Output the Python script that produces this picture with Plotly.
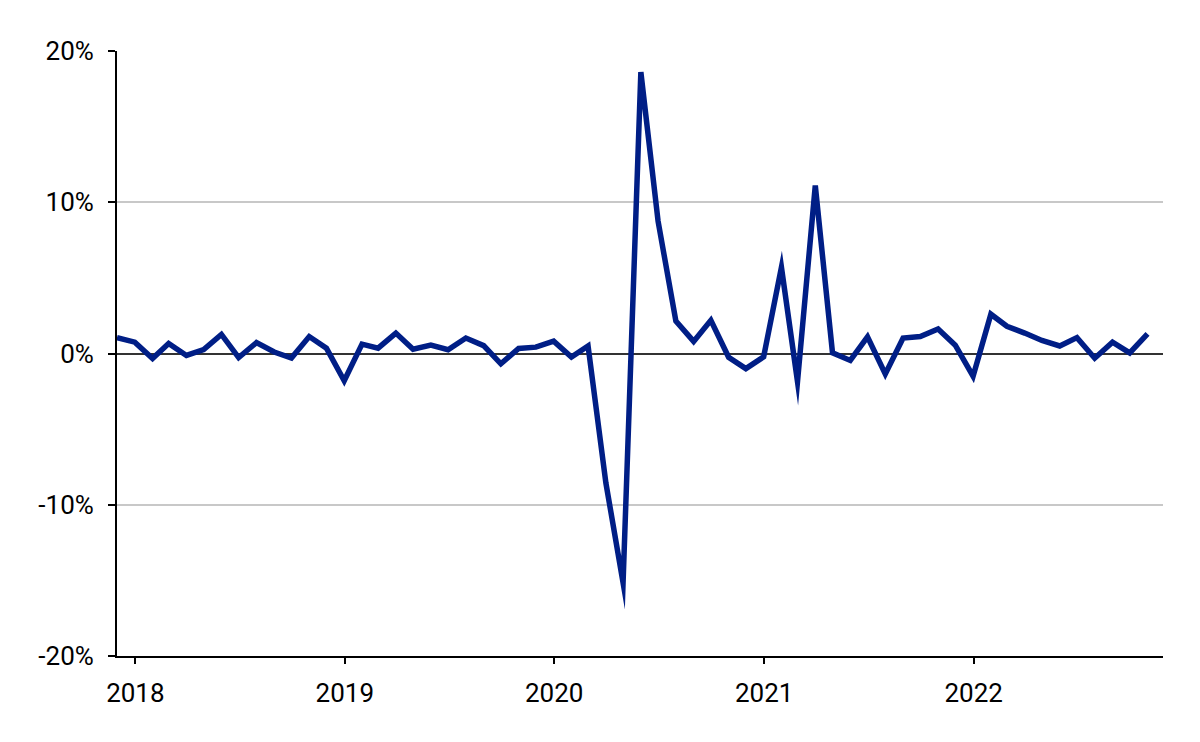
import pandas as pd
import plotly.graph_objects as go

# Monthly change, month-end dates Nov 2017 .. Oct 2022
dates = pd.date_range("2017-11-30", "2022-10-31", freq="ME").strftime("%Y-%m-%d").tolist()
values = [
    1.05, 0.75, -0.33, 0.66, -0.13, 0.26, 1.26, -0.27, 0.72, 0.10, -0.30, 1.12,
    0.35, -1.80, 0.62, 0.35, 1.35, 0.28, 0.55, 0.25, 1.02, 0.52, -0.68, 0.33,
    0.42, 0.82, -0.24, 0.50, -8.55, -15.15, 18.60, 8.75, 2.15, 0.80, 2.20, -0.25,
    -1.00, -0.22, 5.70, -1.85, 11.10, 0.04, -0.46, 1.10, -1.35, 1.02, 1.12, 1.62,
    0.55, -1.50, 2.60, 1.80, 1.35, 0.86, 0.50, 1.05, -0.31, 0.75, 0.04, 1.30,
]
x_tick_vals = ["2018-01-01", "2019-01-01", "2020-01-01", "2021-01-01", "2022-01-01"]
x_tick_text = ["2018", "2019", "2020", "2021", "2022"]
y_tick_vals = [-20, -10, 0, 10, 20]
y_tick_text = ["-20%", "-10%", "0%", "10%", "20%"]

fig = go.Figure()
fig.add_trace(go.Scatter(
    x=dates, y=values, mode="lines",
    line=dict(color="#001E86", width=5.5),
    hoverinfo="skip", showlegend=False,
))

fig.update_layout(
    width=1200, height=742,
    margin=dict(l=117, r=37, t=51, b=86, pad=0),
    paper_bgcolor="white", plot_bgcolor="white",
    font=dict(family="Roboto", size=26, color="#000000"),
)
fig.update_xaxes(
    type="date", range=["2017-11-30", "2022-11-27"],
    tickvals=x_tick_vals, ticktext=x_tick_text,
    showgrid=False, zeroline=False,
    showline=True, linecolor="#000000", linewidth=2,
    ticks="outside", ticklen=6, tickwidth=2, tickcolor="#000000",
    ticklabelstandoff=7,
)
fig.update_yaxes(
    range=[-20, 20], tickvals=y_tick_vals, ticktext=y_tick_text,
    showgrid=True, gridcolor="#c8c8c8", gridwidth=1.5,
    zeroline=True, zerolinecolor="#333333", zerolinewidth=2,
    showline=True, linecolor="#000000", linewidth=2,
    ticks="outside", ticklen=7, tickwidth=2, tickcolor="#000000",
    ticklabelstandoff=9,
)

post = """
document.body.style.margin = '0';
var gd = document.getElementById('{plot_id}');
function fixJoins() {
  gd.querySelectorAll('.scatterlayer path.js-line').forEach(function (p) {
    p.style.strokeLinejoin = 'miter';
    p.style.strokeMiterlimit = '10';
  });
}
fixJoins();
gd.on('plotly_afterplot', fixJoins);
"""

fig.write_html("out.html", post_script=post, config={"displayModeBar": False})
